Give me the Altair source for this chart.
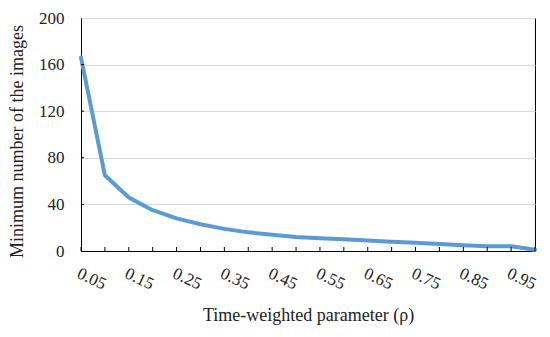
import altair as alt
import pandas as pd

rho = [0.05, 0.10, 0.15, 0.20, 0.25, 0.30, 0.35, 0.40, 0.45, 0.50,
       0.55, 0.60, 0.65, 0.70, 0.75, 0.80, 0.85, 0.90, 0.95, 1.00]
images = [166, 65, 46, 35, 28, 23, 19, 16, 14, 12,
          11, 10, 9, 8, 7, 6, 5, 4, 4, 1]
x_labels = [0.05, 0.15, 0.25, 0.35, 0.45, 0.55, 0.65, 0.75, 0.85, 0.95]
y_ticks = [0, 40, 80, 120, 160, 200]

df = pd.DataFrame({"rho": rho, "images": images})
df_y = pd.DataFrame({"images": y_ticks[1:-1]})

FONT = "Liberation Serif"

xscale = alt.Scale(domain=[0.05, 1.0], nice=False, zero=False)
yscale = alt.Scale(domain=[0, 200], nice=False)

xaxis = alt.Axis(values=x_labels, format=".2f", title="Time-weighted parameter (ρ)",
                 labelAngle=25, labelAlign="left", labelBaseline="top", labelPadding=14,
                 tickSize=0, grid=False, titleBaseline="alphabetic",
                 titleY=69, labelFlush=False, labelOverlap=False)
yaxis = alt.Axis(values=y_ticks, title="Minimum number of the images", tickSize=0,
                 labelPadding=17, gridColor="#D9D9D9",
                 titleX=-64, titleY=123, titleAlign="center", titleBaseline="middle",
                 labelFlush=False)

line = alt.Chart(df).mark_line(color="#5B9BD5", strokeWidth=4, strokeCap="round", strokeJoin="round").encode(
    x=alt.X("rho:Q", scale=xscale, axis=xaxis),
    y=alt.Y("images:Q", scale=yscale, axis=yaxis),
)

xticks = alt.Chart(df).mark_rule(color="black", strokeWidth=1).encode(
    x=alt.X("rho:Q", scale=xscale, axis=xaxis),
    y=alt.value(229),
    y2=alt.value(233),
)

yticks = alt.Chart(df_y).mark_rule(color="black", strokeWidth=1).encode(
    y=alt.Y("images:Q", scale=yscale, axis=yaxis),
    x=alt.value(0),
    x2=alt.value(3),
)

chart = alt.layer(line, xticks, yticks).properties(
    width=454, height=233,
    autosize=alt.AutoSizeParams(type="none"),
    padding={"left": 73, "top": 10, "right": 7, "bottom": 78},
).configure_view(stroke="black", strokeWidth=1).configure_axis(
    labelFont=FONT, labelFontSize=17, labelColor="#222",
    titleFont=FONT, titleFontSize=18, titleFontWeight="normal", titleColor="#222",
    domainColor="black",
)

chart.save("out.html", embed_options={"renderer": "svg", "actions": False})
